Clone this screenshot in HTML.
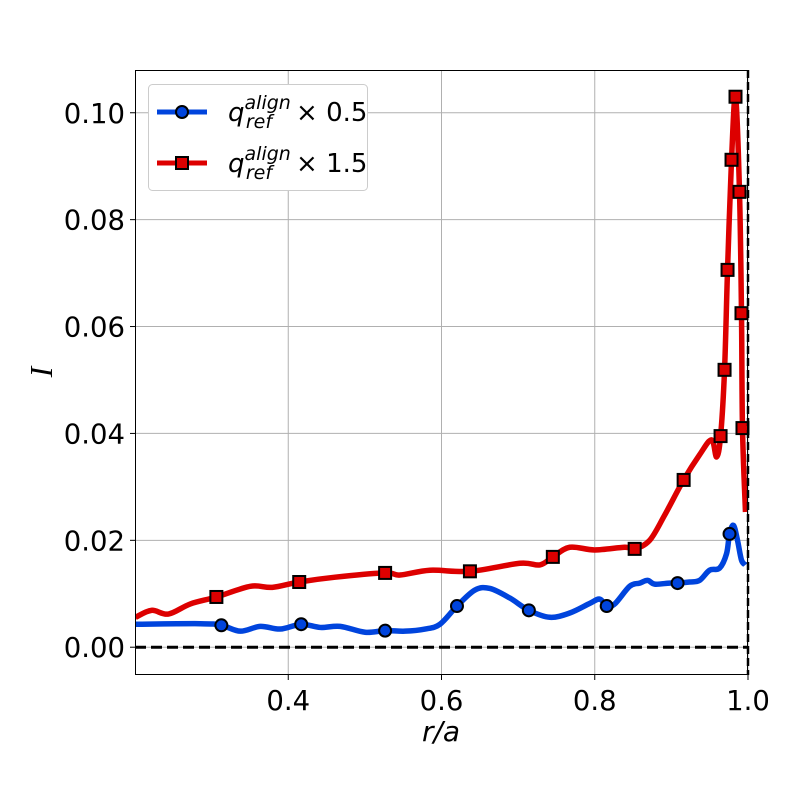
<!DOCTYPE html>
<html><head><meta charset="utf-8"><style>
body{margin:0;background:#fff}
svg{display:block;font-family:"DejaVu Sans","Liberation Sans",sans-serif}
</style></head><body>
<svg id="chart" width="800" height="800" viewBox="0 0 800 800" xmlns="http://www.w3.org/2000/svg">
<rect x="0" y="0" width="800" height="800" fill="#fff"/>
<g id="grid"></g>
<g id="series"></g>
<g id="axes"></g>
<text x="441" y="741" font-size="28" text-anchor="middle" font-style="italic">r/a</text>
<text transform="translate(52,372) rotate(-90)" font-size="32" text-anchor="middle" font-style="italic" font-family="Liberation Serif,serif">I</text>
<g>
<rect x="148.5" y="84.5" width="219" height="106" rx="4" fill="#fff" stroke="#ccc" stroke-width="1"/>
<g>
<line x1="157" y1="112" x2="207" y2="112" stroke="#0044dd" stroke-width="5"/>
<circle cx="182" cy="112" r="6" fill="#0044dd" stroke="#000" stroke-width="2"/>
<text x="228" y="121" font-size="26"><tspan font-style="italic">q</tspan><tspan font-size="19" font-style="italic" dy="-12">align</tspan><tspan font-size="19" font-style="italic" dx="-45" dy="19">ref</tspan><tspan dx="24" dy="-7">× 0.5</tspan></text>
</g>
<g>
<line x1="157" y1="163" x2="207" y2="163" stroke="#dd0000" stroke-width="5"/>
<rect x="176" y="157" width="12" height="12" fill="#dd0000" stroke="#000" stroke-width="2"/>
<text x="228" y="172" font-size="26"><tspan font-style="italic">q</tspan><tspan font-size="19" font-style="italic" dy="-12">align</tspan><tspan font-size="19" font-style="italic" dx="-45" dy="19">ref</tspan><tspan dx="24" dy="-7">× 1.5</tspan></text>
</g>
</g>
</svg>
<script>
const xTicks=[0.4,0.6,0.8,1.0];
const xTickLabels=["0.4","0.6","0.8","1.0"];
const yTicks=[0,0.02,0.04,0.06,0.08,0.10];
const yTickLabels=["0.00","0.02","0.04","0.06","0.08","0.10"];
const blueX=[.2007,.2853,.3127,.3375,.3635,.3896,.4169,.4417,.4678,.5003,.5264,.5524,.5785,.5980,.6202,.6436,.6632,.6892,.7140,.7414,.7674,.7935,.8065,.8156,.8261,.8456,.8586,.8691,.8782,.8977,.9081,.9238,.9368,.9498,.9629,.9720,.9759,.9811,.9863,.9915,.9967];
const blueY=[.0043,.0044,.0041,.0030,.0039,.0034,.0043,.0037,.0039,.0028,.0031,.0030,.0034,.0043,.0077,.0107,.0110,.0092,.0069,.0056,.0064,.0082,.0090,.0077,.0081,.0114,.0120,.0125,.0118,.0120,.0120,.0122,.0125,.0144,.0148,.0175,.0212,.0228,.0200,.0163,.0154];
const blueMarkers=[2,6,10,14,18,23,30,36];
const redX=[.2007,.2215,.2436,.2723,.3062,.3505,.3792,.4143,.4612,.5264,.5459,.5850,.6371,.7023,.7283,.7453,.7674,.8000,.8391,.8521,.8717,.8912,.9160,.9368,.9524,.9590,.9642,.9694,.9733,.9785,.9837,.9889,.9915,.9928,.9967];
const redY=[.0056,.0069,.0062,.0081,.0094,.0114,.0112,.0122,.0131,.0139,.0135,.0144,.0142,.0157,.0154,.0169,.0187,.0182,.0187,.0184,.0200,.0247,.0313,.0360,.0388,.0356,.0395,.0519,.0706,.0912,.1030,.0852,.0625,.0410,.0253];
const redMarkers=[4,7,9,12,15,19,22,26,27,28,29,30,31,32,33];

const X0=0.2,X1=1.0,Y0=-0.0052,Y1=0.108;
const L=135,R=748,T=70,B=675;
const sx=v=>L+(v-X0)/(X1-X0)*(R-L);
const sy=v=>B-(v-Y0)/(Y1-Y0)*(B-T);
const NS="http://www.w3.org/2000/svg";
function mk(tag,attrs,parent){const e=document.createElementNS(NS,tag);for(const k in attrs)e.setAttribute(k,attrs[k]);parent.appendChild(e);return e;}
const grid=document.getElementById('grid'),axes=document.getElementById('axes'),series=document.getElementById('series');
xTicks.forEach((t,i)=>{
 const g=mk('line',{x1:sx(t),x2:sx(t),y1:T,y2:B,stroke:'#b0b0b0','stroke-width':1},grid);
 
 
 const tk=mk('line',{x1:sx(t),x2:sx(t),y1:B,y2:B+5,stroke:'#000','stroke-width':1},axes);
 
 
 const lb=mk('text',{x:sx(t),y:B+35,'font-size':27.5,'text-anchor':'middle'},axes);
 lb.textContent=xTickLabels[i];
 
 
});
yTicks.forEach((t,i)=>{
 const g=mk('line',{x1:L,x2:R,y1:sy(t),y2:sy(t),stroke:'#b0b0b0','stroke-width':1},grid);
 
 
 const tk=mk('line',{x1:L-5,x2:L,y1:sy(t),y2:sy(t),stroke:'#000','stroke-width':1},axes);
 
 
 const lb=mk('text',{x:L-10,y:sy(t)+10,'font-size':27.5,'text-anchor':'end'},axes);
 lb.textContent=yTickLabels[i];
 
 
});
function smooth(xs,ys){
 const p=xs.map((x,i)=>[sx(x),sy(ys[i])]);
 let d='M'+p[0][0]+','+p[0][1];
 for(let i=0;i<p.length-1;i++){
  const p0=p[Math.max(0,i-1)],p1=p[i],p2=p[i+1],p3=p[Math.min(p.length-1,i+2)];
  const c1=[p1[0]+(p2[0]-p0[0])/6,p1[1]+(p2[1]-p0[1])/6];
  const c2=[p2[0]-(p3[0]-p1[0])/6,p2[1]-(p3[1]-p1[1])/6];
  d+=' C'+c1[0]+','+c1[1]+' '+c2[0]+','+c2[1]+' '+p2[0]+','+p2[1];
 }
 return d;
}
const cp=mk('clipPath',{id:'clip'},series);mk('rect',{x:L,y:T,width:R-L,height:B-T},cp);
const bl=mk('path',{d:smooth(blueX,blueY),fill:'none',stroke:'#0044dd','stroke-width':5.5,'stroke-linejoin':'round','clip-path':'url(#clip)'},series);


const rl=mk('path',{d:smooth(redX,redY),fill:'none',stroke:'#dd0000','stroke-width':5.5,'stroke-linejoin':'round','clip-path':'url(#clip)'},series);


blueMarkers.forEach(i=>{
 const c=mk('circle',{cx:sx(blueX[i]),cy:sy(blueY[i]),r:6,fill:'#0044dd',stroke:'#000','stroke-width':2},series);
 
 
});
redMarkers.forEach(i=>{
 const r=mk('rect',{x:sx(redX[i])-6,y:sy(redY[i])-6,width:12,height:12,fill:'#dd0000',stroke:'#000','stroke-width':2},series);
 
 
});
const h=mk('line',{x1:L,x2:R,y1:sy(0),y2:sy(0),stroke:'#000','stroke-width':3,'stroke-dasharray':'11,5'},series);


const v=mk('line',{x1:sx(1),x2:sx(1),y1:T,y2:B,stroke:'#000','stroke-width':2.5,'stroke-dasharray':'8,4'},series);


const fr=mk('rect',{x:L+0.5,y:T+0.5,width:R-L-1,height:B-T-1,fill:'none',stroke:'#000','stroke-width':1},axes);


</script>
</body></html>
